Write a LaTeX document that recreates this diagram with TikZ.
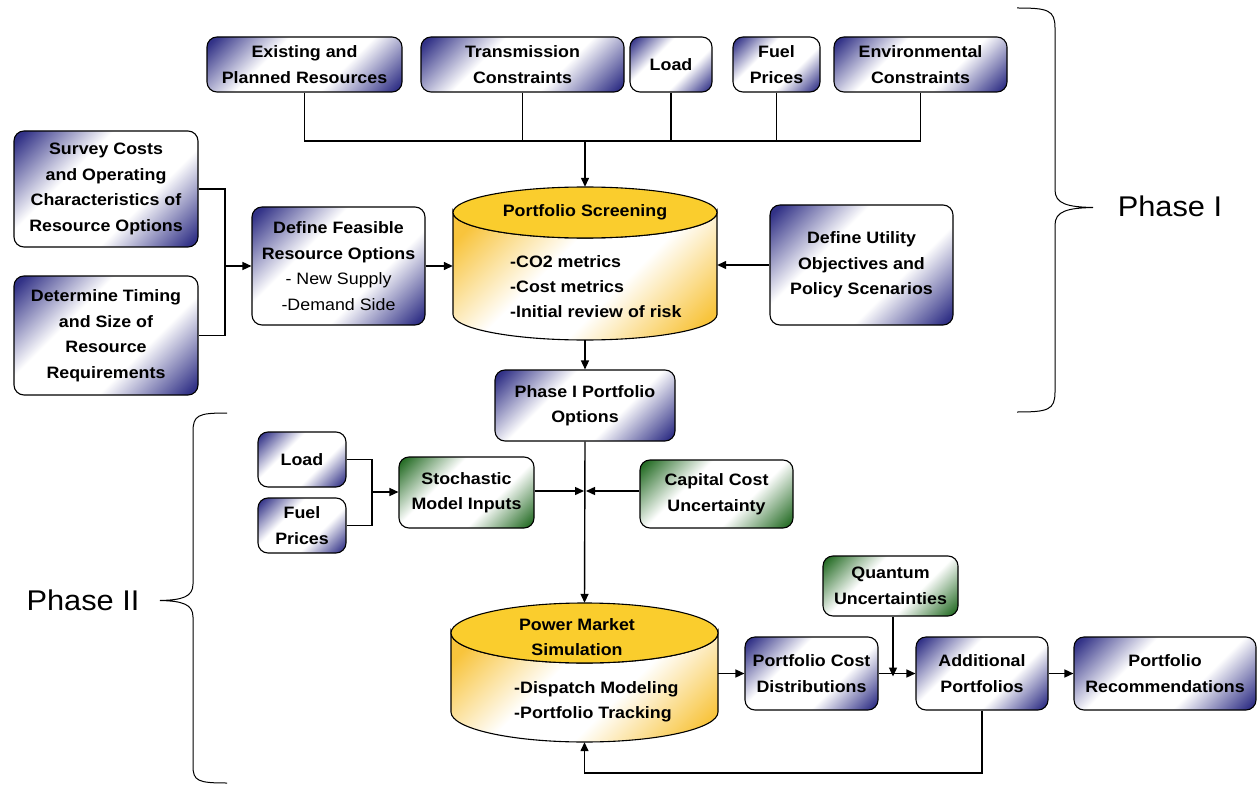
\documentclass[tikz,border=0pt]{standalone}
\usepackage{fontspec}
\setmainfont[FakeStretch=1.08]{Liberation Sans}
\usetikzlibrary{arrows.meta}
\definecolor{bnavy}{RGB}{50,50,135}
\definecolor{bgreen}{RGB}{40,110,40}
\definecolor{ytop}{RGB}{250,205,45}
\definecolor{ygold}{RGB}{248,196,60}
\pgfdeclarehorizontalshading{bluesh}{100bp}{color(0bp)=(bnavy); color(17bp)=(bnavy); color(38bp)=(white); color(62bp)=(white); color(83bp)=(bnavy); color(100bp)=(bnavy)}
\pgfdeclarehorizontalshading{greensh}{100bp}{color(0bp)=(bgreen); color(17bp)=(bgreen); color(38bp)=(white); color(62bp)=(white); color(83bp)=(bgreen); color(100bp)=(bgreen)}
\pgfdeclarehorizontalshading{yelsh}{100bp}{color(0bp)=(ygold); color(20bp)=(ygold); color(42bp)=(white); color(58bp)=(white); color(80bp)=(ygold); color(100bp)=(ygold)}
\tikzset{
  box/.style={draw=black, line width=1.1pt, rounded corners=10pt, align=center,
    font=\fontsize{16.5}{25.5}\selectfont\bfseries, inner sep=2pt},
  bluebox/.style={box, shading=bluesh, shading angle=-45},
  greenbox/.style={box, shading=greensh, shading angle=-45},
  txt/.style={font=\fontsize{16.5}{25}\selectfont\bfseries, inner sep=0pt},
  phase/.style={font=\fontsize{28.5}{30}\selectfont, inner sep=0pt},
  conn/.style={line width=1.4pt},
  arr/.style={conn, -{Triangle[length=9pt,width=8pt]}},
  cylbody/.style={shading=yelsh, shading angle=-45, draw=black, line width=1.1pt},
  cyltop/.style={fill=ytop, draw=black, line width=1.1pt},
  brace/.style={line width=1pt}
}
\begin{document}
\begin{tikzpicture}[x=1pt,y=-1pt]
\useasboundingbox (0,0) rectangle (1257,786);

% ---------- Phase I top inputs ----------
\node[bluebox, minimum width=195, minimum height=55] (exist) at (304.5,64.5) {Existing and\\Planned Resources};
\node[bluebox, minimum width=203, minimum height=55] (trans) at (522.5,64.5) {Transmission\\Constraints};
\node[bluebox, minimum width=82, minimum height=55] (load) at (671,64.5) {Load};
\node[bluebox, minimum width=87, minimum height=55] (fuel) at (776.5,64.5) {Fuel\\Prices};
\node[bluebox, minimum width=173, minimum height=55] (env) at (920.5,64.5) {Environmental\\Constraints};

% ---------- left inputs ----------
\node[bluebox, minimum width=184, minimum height=116] (surv) at (106,189) {Survey Costs\\and Operating\\Characteristics of\\Resource Options};
\node[bluebox, minimum width=184, minimum height=119] (det) at (106,335.5) {Determine Timing\\and Size of\\Resource\\Requirements};
\node[bluebox, minimum width=173, minimum height=118] (feas) at (338.5,266) {Define Feasible\\Resource Options\\\mdseries - New Supply\\\mdseries -Demand Side};
\node[bluebox, minimum width=183, minimum height=120] (util) at (861.5,265) {Define Utility\\Objectives and\\Policy Scenarios};

% ---------- Portfolio Screening cylinder ----------
\path[cylbody] (453,212.5) -- (453,314.5) arc[start angle=180,end angle=0,x radius=132,y radius=25.5] -- (717,212.5) arc[start angle=0,end angle=180,x radius=132,y radius=25.5] -- cycle;
\path[cyltop] (585,212.5) ellipse[x radius=132, y radius=25.5];
\node[minimum width=264, minimum height=153, inner sep=0pt] (scr) at (585,263.5) {};
\node[txt] (scrt) at (585,212) {Portfolio Screening};
\node[txt, align=left, anchor=west] (scrb) at (510,287) {-CO2 metrics\\-Cost metrics\\-Initial review of risk};

\node[bluebox, minimum width=180, minimum height=71] (p1) at (585,405.5) {Phase I Portfolio\\Options};

% ---------- Phase II inputs ----------
\node[bluebox, minimum width=88, minimum height=55] (load2) at (302,459.5) {Load};
\node[bluebox, minimum width=88, minimum height=55] (fuel2) at (302,525.5) {Fuel\\Prices};
\node[greenbox, minimum width=135, minimum height=71] (stoch) at (466.5,492.5) {Stochastic\\Model Inputs};
\node[greenbox, minimum width=153, minimum height=68] (cap) at (716.5,494) {Capital Cost\\Uncertainty};
\node[greenbox, minimum width=135, minimum height=60] (quant) at (890.5,586) {Quantum\\Uncertainties};

% ---------- Power Market Simulation cylinder ----------
\path[cylbody] (451,633) -- (451,712) arc[start angle=180,end angle=0,x radius=133.5,y radius=30] -- (718,633) arc[start angle=0,end angle=180,x radius=133.5,y radius=30] -- cycle;
\path[cyltop] (584.5,633) ellipse[x radius=133.5, y radius=30];
\node[minimum width=267, minimum height=139, inner sep=0pt] (pms) at (584.5,672.5) {};
\node[txt, align=center] (pmst) at (577,637.5) {Power Market\\Simulation};
\node[txt, align=left, anchor=west] (pmsb) at (514,701.5) {-Dispatch Modeling\\-Portfolio Tracking};

\node[bluebox, minimum width=133, minimum height=73] (pcd) at (811.5,673.5) {Portfolio Cost\\Distributions};
\node[bluebox, minimum width=132, minimum height=73] (add) at (982,673.5) {Additional\\Portfolios};
\node[bluebox, minimum width=182, minimum height=73] (rec) at (1165,673.5) {Portfolio\\Recommendations};

% ---------- connectors, phase I ----------
\coordinate (tbus) at (585,141);
\draw[conn] (exist.south) -- (exist.south |- tbus) -- (env.south |- tbus) -- (env.south);
\draw[conn] (trans.south) -- (trans.south |- tbus);
\draw[conn] (load.south) -- (load.south |- tbus);
\draw[conn] (fuel.south) -- (fuel.south |- tbus);
\draw[arr] (tbus) -- (scr.north);

\coordinate (lbus) at (225,266);
\draw[conn] (surv.east) -| (lbus |- det.east) -- (det.east);
\draw[arr] (lbus) -- (feas.west);
\draw[arr] (feas.east) -- (feas.east -| scr.west);
\draw[arr] (util.west) -- (util.west -| scr.east);
\draw[arr] (scr.south) -- (p1.north);

% ---------- connectors, phase II ----------
\coordinate (mj) at (585,491);
\draw[arr] (p1.south) -- (pms.north);
\draw[arr] (stoch.east |- mj) -- ([xshift=-1pt]mj);
\draw[arr] (cap.west |- mj) -- ([xshift=1pt]mj);
\coordinate (lb2) at (372,492);
\draw[conn] (load2.east) -| (lb2 |- fuel2.east) -- (fuel2.east);
\draw[arr] (lb2) -- (lb2 -| stoch.west);

\draw[arr] (pcd.west -| pms.east) -- (pcd.west);
\draw[arr] (pcd.east) -- (add.west);
\coordinate (qj) at (893,673.5);
\draw[arr] (quant.south -| qj) -- ([yshift=-3pt]qj);
\draw[arr] (add.east) -- (rec.west);
\coordinate (fb) at (982,773);
\draw[arr] (add.south) -- (fb) -| (pms.south);

% ---------- braces ----------
\draw[brace] (1017,8) .. controls (1048,8) and (1055,10) .. (1055,28) -- (1055,190) .. controls (1055,204) and (1068,207) .. (1093,207.5) .. controls (1068,208) and (1055,211) .. (1055,225) -- (1055,392) .. controls (1055,410) and (1048,412) .. (1017,412);
\node[phase] (ph1) at (1170,206) {Phase I};

\draw[brace] (227,413) .. controls (198,413) and (193,415) .. (193,432) -- (193,584) .. controls (193,597) and (182,600) .. (160,600.5) .. controls (182,601) and (193,604) .. (193,617) -- (193,766) .. controls (193,781) and (198,783) .. (227,783);
\node[phase] (ph2) at (83,600) {Phase II};
\end{tikzpicture}
\end{document}
